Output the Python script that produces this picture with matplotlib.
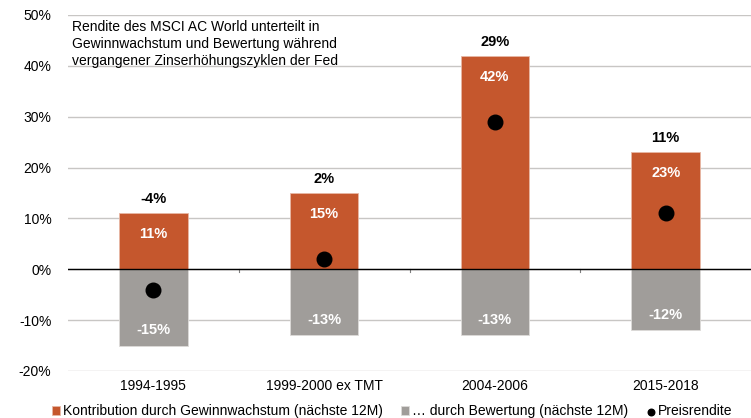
import matplotlib.pyplot as plt
import numpy as np

plt.rcParams["font.family"] = ["Liberation Sans", "DejaVu Sans"]

categories = ["1994-1995", "1999-2000 ex TMT", "2004-2006", "2015-2018"]
earnings = [11, 15, 42, 23]       # Kontribution durch Gewinnwachstum
valuation = [-15, -13, -13, -12]  # durch Bewertung
price = [-4, 2, 29, 11]           # Preisrendite

ORANGE = "#C5572D"
GREY = "#A09D9A"

fig = plt.figure(figsize=(7.51, 4.18), dpi=100)
ax = fig.add_axes([68 / 751, 47 / 418, 683 / 751, 356 / 418])

x = np.arange(len(categories))
w = 0.40
b1 = ax.bar(x, earnings, w, color=ORANGE, edgecolor="#E8B8A5", linewidth=0.6, zorder=2,
            label="Kontribution durch Gewinnwachstum (nächste 12M)")
b2 = ax.bar(x, valuation, w, color=GREY, edgecolor="#DDDBD9", linewidth=0.6, zorder=2,
            label="… durch Bewertung (nächste 12M)")
sc = ax.scatter(x, price, s=110, color="black", zorder=3, label="Preisrendite")

for i in range(len(x)):
    ax.annotate(f"{earnings[i]}%", (x[i], earnings[i]), xytext=(0, -10), textcoords="offset points",
                ha="center", va="top", color="white", fontsize=10.5, fontweight="bold")
    ax.annotate(f"{valuation[i]}%", (x[i], valuation[i]), xytext=(0, 6), textcoords="offset points",
                ha="center", va="bottom", color="white", fontsize=10.5, fontweight="bold")
    ax.annotate(f"{price[i]}%", (x[i], earnings[i]), xytext=(0, 5), textcoords="offset points",
                ha="center", va="bottom", color="black", fontsize=10.5, fontweight="bold")

ax.set_xlim(-0.5, len(x) - 0.5)
ax.set_ylim(-20, 50)
ax.set_yticks(np.arange(-20, 51, 10))
ax.set_yticklabels([f"{v}%" for v in range(-20, 51, 10)], fontsize=10)
ax.yaxis.grid(True, color="#C8C6C4", linewidth=1)
ax.set_axisbelow(True)
ax.tick_params(axis="y", length=0, pad=12)

ax.set_xticks(x)
ax.set_xticklabels(categories, fontsize=10)
ax.tick_params(axis="x", length=0, pad=6)
for xb in x[:-1] + 0.5:
    ax.plot([xb, xb], [0, -0.6], color="#7F7F7F", linewidth=0.8, zorder=1)
ax.axhline(0, color="black", linewidth=1, zorder=2.5)

for s in ax.spines.values():
    s.set_visible(False)

ax.text(0.006, 0.985, "Rendite des MSCI AC World unterteilt in\nGewinnwachstum und Bewertung während\n"
        "vergangener Zinserhöhungszyklen der Fed",
        transform=ax.transAxes, ha="left", va="top", fontsize=10, linespacing=1.25)

fig.legend([b1, b2, sc], [b1.get_label(), b2.get_label(), sc.get_label()],
           loc="lower center", bbox_to_anchor=(0.522, -0.03), ncol=3, frameon=False, fontsize=10,
           handlelength=0.6, handleheight=0.6, handletextpad=0.2, columnspacing=1.3, markerscale=0.45)

fig.savefig("out.png", dpi=100)
